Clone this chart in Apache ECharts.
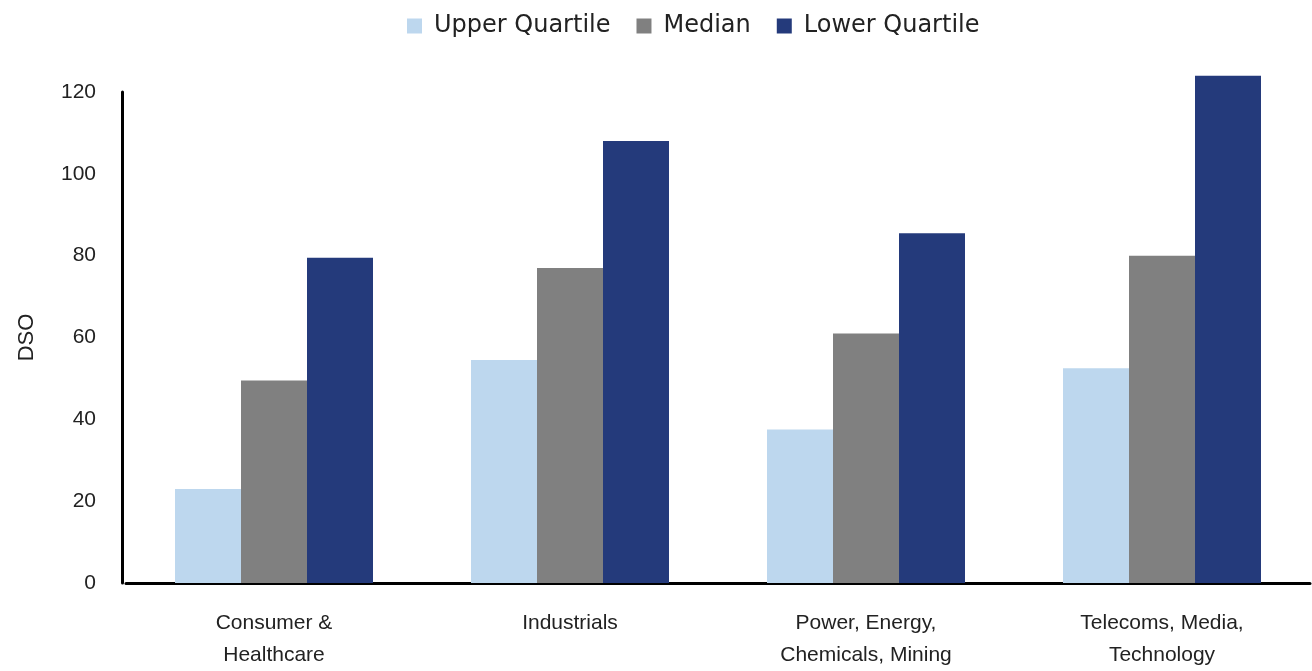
<!DOCTYPE html>
<html>
<head>
<meta charset="utf-8">
<script src="https://cdn.jsdelivr.net/npm/echarts@6/dist/echarts.min.js"></script>
<style>
  html, body { margin: 0; padding: 0; background: #fff; }
  #main { width: 1312px; height: 671px; }
</style>
</head>
<body>
<div id="main"></div>
<script>
// categories and values
const categories = [
  "Consumer &\nHealthcare",
  "Industrials",
  "Power, Energy,\nChemicals, Mining",
  "Telecoms, Media,\nTechnology"
];
const upperQuartile = [23, 54.5, 37.5, 52.5];
const median = [49.5, 77, 61, 80];
const lowerQuartile = [79.5, 108, 85.5, 124];
const yTicks = [0, 20, 40, 60, 80, 100, 120];

const myChart = echarts.init(document.getElementById("main"));

const narrow = "'Liberation Sans Narrow', 'Arial Narrow', 'Liberation Sans', Arial, sans-serif";

const options = {
  animation: false,
  color: ["#bdd7ee", "#808080", "#243a7b"],
  legend: {
    top: 9,
    left: 402,
    itemWidth: 15,
    itemHeight: 15,
    itemGap: 26,
    icon: "rect",
    textStyle: {
      fontFamily: "'DejaVu Sans', sans-serif",
      fontSize: 24,
      color: "#222",
      padding: [0, 0, 0, 7]
    },
    data: ["Upper Quartile", "Median", "Lower Quartile"]
  },
  grid: {
    left: 126,
    right: 2,
    top: 92,
    bottom: 88,
    containLabel: false
  },
  xAxis: {
    type: "category",
    data: categories,
    axisLine: { lineStyle: { color: "#000", width: 3 } },
    axisTick: { show: false },
    axisLabel: {
      margin: 24,
      fontFamily: narrow,
      fontSize: 21,
      lineHeight: 32,
      color: "#222",
      interval: 0
    }
  },
  yAxis: {
    type: "value",
    min: yTicks[0],
    max: yTicks[yTicks.length - 1],
    interval: 20,
    offset: 4,
    name: "DSO",
    nameLocation: "middle",
    nameGap: 84,
    nameRotate: 90,
    nameTextStyle: {
      fontFamily: narrow,
      fontSize: 22,
      color: "#222"
    },
    axisLine: { show: true, lineStyle: { color: "#000", width: 3 } },
    axisTick: { show: false },
    splitLine: { show: false },
    axisLabel: {
      margin: 26,
      fontFamily: narrow,
      fontSize: 21,
      color: "#222"
    }
  },
  series: [
    { name: "Upper Quartile", type: "bar", data: upperQuartile, barWidth: 66, barGap: "0%", clip: false },
    { name: "Median", type: "bar", data: median, barWidth: 66, barGap: "0%", clip: false },
    { name: "Lower Quartile", type: "bar", data: lowerQuartile, barWidth: 66, barGap: "0%", clip: false }
  ]
};

myChart.setOption(options);
</script>
</body>
</html>
